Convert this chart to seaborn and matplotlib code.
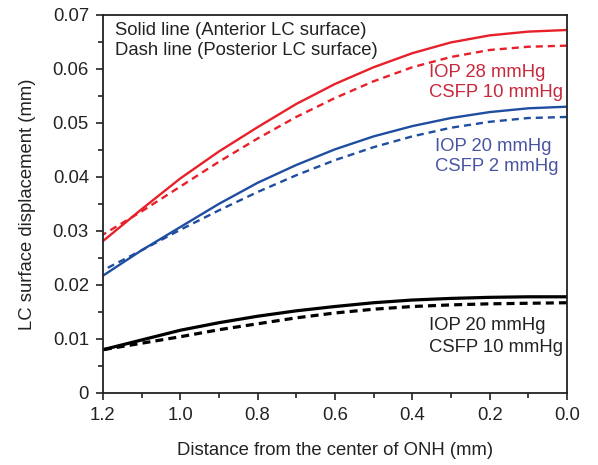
import numpy as np
import pandas as pd
import seaborn as sns
import matplotlib.pyplot as plt
from matplotlib.ticker import MultipleLocator, FormatStrFormatter

# distance from centre of ONH (mm)
distance = [1.2, 1.1, 1.0, 0.9, 0.8, 0.7, 0.6, 0.5, 0.4, 0.3, 0.2, 0.1, 0.0]

# IOP 28 / CSFP 10
red_anterior = [0.0281, 0.0340, 0.0397, 0.0447, 0.0492, 0.0535, 0.0572,
                0.0603, 0.0629, 0.0649, 0.0662, 0.0669, 0.0672]
red_posterior = [0.0293, 0.0336, 0.0382, 0.0428, 0.0471, 0.0511, 0.0546,
                 0.0577, 0.0603, 0.0622, 0.0635, 0.0641, 0.0643]

# IOP 20 / CSFP 2
blue_anterior = [0.0217, 0.0264, 0.0307, 0.0350, 0.0389, 0.0422, 0.0451,
                 0.0475, 0.0494, 0.0509, 0.0520, 0.0527, 0.0530]
blue_posterior = [0.0227, 0.0264, 0.0302, 0.0338, 0.0372, 0.0403, 0.0431,
                  0.0455, 0.0475, 0.0491, 0.0502, 0.0509, 0.0511]

# IOP 20 / CSFP 10
black_anterior = [0.0080, 0.0098, 0.0116, 0.0130, 0.0142, 0.0152, 0.0160,
                  0.0167, 0.0172, 0.0175, 0.0177, 0.0178, 0.0178]
black_posterior = [0.0080, 0.0092, 0.0104, 0.0117, 0.0128, 0.0139, 0.0148,
                   0.0155, 0.0160, 0.0163, 0.0165, 0.0166, 0.0167]

RED = "#e8202a"
BLUE = "#1f4ea0"
BLACK = "#000000"
FS = 13.3

sns.set_style("ticks")
plt.rcParams["font.family"] = ["Liberation Sans", "DejaVu Sans"]

fig = plt.figure(figsize=(5.98, 4.65), dpi=100)
ax = fig.add_axes([0.172, 0.155, 0.776, 0.813])

series = [
    (red_anterior, RED, "-", 1.7),
    (red_posterior, RED, (0, (3.0, 2.1)), 1.7),
    (blue_anterior, BLUE, "-", 1.7),
    (blue_posterior, BLUE, (0, (3.0, 2.1)), 1.7),
    (black_anterior, BLACK, "-", 2.3),
    (black_posterior, BLACK, (0, (2.5, 1.6)), 2.3),
]
for vals, col, ls, lw in series:
    df = pd.DataFrame({"x": distance, "y": vals})
    sns.lineplot(data=df, x="x", y="y", ax=ax, color=col, linestyle=ls,
                 linewidth=lw)

ax.set_xlim(1.2, 0.0)
ax.set_ylim(0, 0.07)
ax.xaxis.set_major_locator(MultipleLocator(0.2))
ax.xaxis.set_minor_locator(MultipleLocator(0.1))
ax.yaxis.set_minor_locator(MultipleLocator(0.005))
ax.xaxis.set_major_formatter(FormatStrFormatter("%.1f"))
ax.set_yticks(np.arange(0, 0.071, 0.01))
ax.set_yticklabels(["0", "0.01", "0.02", "0.03", "0.04", "0.05", "0.06", "0.07"])

ax.tick_params(which="major", direction="out", length=5, width=1.2,
               labelsize=FS, colors="#222222", pad=5)
ax.tick_params(which="minor", direction="out", length=3.5, width=1.2,
               colors="#222222")
for sp in ax.spines.values():
    sp.set_linewidth(1.3)
    sp.set_color("#222222")

ax.set_xlabel("Distance from the center of ONH (mm)", fontsize=FS,
              labelpad=13, color="#222222")
ax.set_ylabel("LC surface displacement (mm)", fontsize=FS, labelpad=12,
              color="#222222")

ax.text(0.026, 0.958, "Solid line (Anterior LC surface)", transform=ax.transAxes,
        fontsize=FS, va="center", color="#222222")
ax.text(0.026, 0.905, "Dash line (Posterior LC surface)", transform=ax.transAxes,
        fontsize=FS, va="center", color="#222222")

ax.text(0.357, 0.0594, "IOP 28 mmHg", fontsize=FS, va="center", color="#c8283c")
ax.text(0.357, 0.0557, "CSFP 10 mmHg", fontsize=FS, va="center", color="#c8283c")
ax.text(0.341, 0.0456, "IOP 20 mmHg", fontsize=FS, va="center", color="#4a55a2")
ax.text(0.341, 0.0419, "CSFP 2 mmHg", fontsize=FS, va="center", color="#4a55a2")
ax.text(0.357, 0.0124, "IOP 20 mmHg", fontsize=FS, va="center", color="#222222")
ax.text(0.357, 0.0085, "CSFP 10 mmHg", fontsize=FS, va="center", color="#222222")

fig.savefig("out.png", dpi=100)
